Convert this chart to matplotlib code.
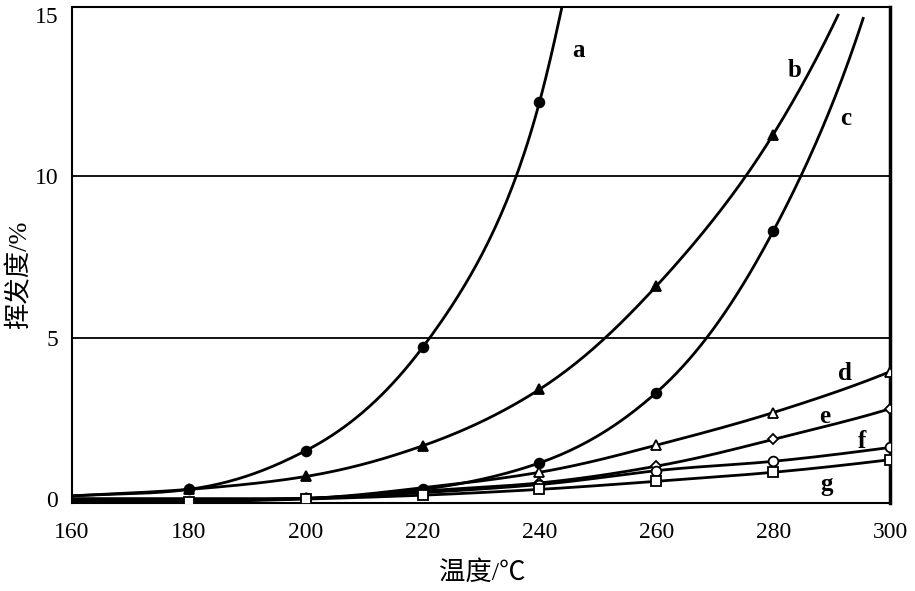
import numpy as np
import matplotlib
matplotlib.use('Agg')
import matplotlib.pyplot as plt

plt.rcParams['font.family'] = ['Liberation Serif', 'Noto Sans CJK SC', 'DejaVu Sans']

# values (temperature in deg C, volatility in %)
a_x = [160, 180, 200, 220, 240, 243.9]
a_y = [0.1, 0.3, 1.5, 4.7, 12.3, 15.3]
b_x = [160, 180, 200, 220, 240, 260, 280, 291.1]
b_y = [0.1, 0.3, 0.7, 1.65, 3.4, 6.6, 11.3, 15.0]
c_x = [160, 180, 200, 220, 240, 260, 280, 295.4]
c_y = [0.0, 0.0, 0.02, 0.3, 1.12, 3.3, 8.3, 14.9]
d_x = [160, 180, 200, 220, 240, 260, 280, 300]
d_y = [0.0, 0.0, 0.02, 0.35, 0.83, 1.67, 2.68, 3.95]
e_x = [160, 180, 200, 220, 240, 260, 280, 300]
e_y = [0.0, 0.0, 0.02, 0.25, 0.5, 1.02, 1.85, 2.8]
f_x = [160, 180, 200, 220, 240, 260, 280, 300]
f_y = [0.0, 0.0, 0.02, 0.2, 0.45, 0.88, 1.17, 1.6]
g_x = [160, 180, 200, 220, 240, 260, 280, 300]
g_y = [-0.05, -0.08, 0.0, 0.12, 0.3, 0.55, 0.83, 1.22]

# which points carry a marker
a_mk = [1, 2, 3, 4]
b_mk = [1, 2, 3, 4, 5, 6]
c_mk = [2, 3, 4, 5, 6]
d_mk = [2, 4, 5, 6, 7]
e_mk = [4, 5, 6, 7]
f_mk = [4, 5, 6, 7]
g_mk = [1, 2, 3, 4, 5, 6, 7]

labels = ['a', 'b', 'c', 'd', 'e', 'f', 'g']
label_pos = [(245.6, 13.9), (282.5, 13.3), (291.4, 11.8), (291.1, 3.9),
             (287.8, 2.55), (294.5, 1.8), (288.0, 0.45)]
xticks = [160, 180, 200, 220, 240, 260, 280, 300]
yticks = [0, 5, 10, 15]


def smooth(x, y, n=40, off=0.6):
    # cubic hermite curve through the read points, done in log space
    x = np.asarray(x, float)
    ly = np.log(np.asarray(y, float) + off)
    m = np.gradient(ly, x)
    xs, ys = [], []
    for i in range(len(x) - 1):
        h = x[i + 1] - x[i]
        t = np.linspace(0, 1, n)
        h00 = 2 * t**3 - 3 * t**2 + 1
        h10 = t**3 - 2 * t**2 + t
        h01 = -2 * t**3 + 3 * t**2
        h11 = t**3 - t**2
        xs.append(x[i] + t * h)
        ys.append(h00 * ly[i] + h10 * h * m[i] + h01 * ly[i + 1] + h11 * h * m[i + 1])
    return np.concatenate(xs), np.exp(np.concatenate(ys)) - off


fig = plt.figure(figsize=(9.15, 5.91), dpi=100)
ax = fig.add_axes([0.0787, 0.149, 0.894, 0.839])

series = [
    (a_x, a_y, a_mk, 'o', 'k'),
    (b_x, b_y, b_mk, '^', 'k'),
    (c_x, c_y, c_mk, 'o', 'k'),
    (d_x, d_y, d_mk, '^', 'w'),
    (e_x, e_y, e_mk, 'D', 'w'),
    (f_x, f_y, f_mk, 'o', 'w'),
    (g_x, g_y, g_mk, 's', 'w'),
]
for x, y, mk, m, fc in series:
    sx, sy = smooth(x, y)
    ax.plot(sx, sy, color='k', lw=2.0, zorder=3)
    ax.plot([x[i] for i in mk], [y[i] for i in mk], ls='none', marker=m,
            ms=7 if m != 'D' else 5.5, mfc=fc, mec='k', mew=1.3, zorder=4)

for lab, (lx, ly) in zip(labels, label_pos):
    ax.text(lx, ly, lab, fontsize=18, fontweight='bold', ha='left', va='center')

for yv in [5, 10]:
    ax.axhline(yv, color='k', lw=1.3, zorder=1)

ax.set_xlim(160, 300)
ax.set_ylim(-0.12, 15.25)
ax.set_xticks(xticks)
ax.set_yticks(yticks)
ax.tick_params(length=0, labelsize=17)
ax.tick_params(axis='x', pad=14)
ax.tick_params(axis='y', pad=10)
for s in ax.spines.values():
    s.set_linewidth(1.5)
ax.spines['right'].set_linewidth(2.5)
ax.set_xlabel('温度/℃', fontsize=19)
ax.set_ylabel('挥发度/%', fontsize=19)
ax.xaxis.set_label_coords(0.501, -0.115)
ax.yaxis.set_label_coords(-0.05, 0.46)

fig.savefig('out.png', dpi=100)
